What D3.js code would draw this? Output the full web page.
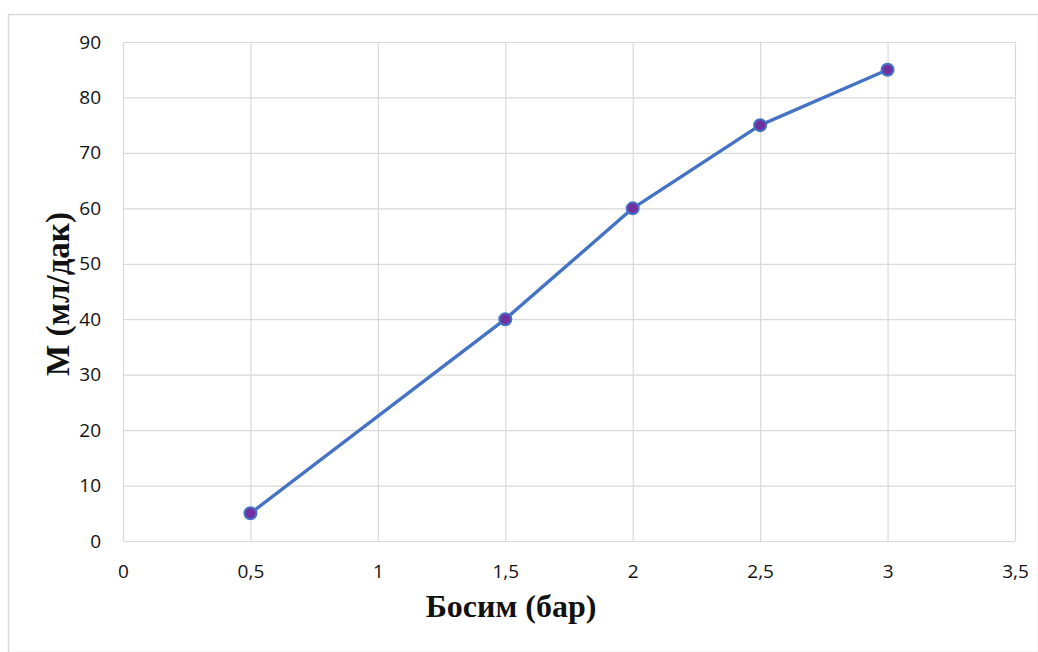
<!DOCTYPE html>
<html>
<head>
<meta charset="utf-8">
<script src="https://cdn.jsdelivr.net/npm/d3@7"></script>
<style>
  html, body { margin: 0; padding: 0; background: #ffffff; }
  svg { display: block; }
</style>
</head>
<body>
<svg id="chart" width="1038" height="652"></svg>
<script>
// Pressure (bar) and flow rate (ml/min)
const pressure = [0.5, 1.5, 2, 2.5, 3];
const flow = [5, 40, 60, 75, 85];
const xTicks = [0, 0.5, 1, 1.5, 2, 2.5, 3, 3.5];
const yTicks = [0, 10, 20, 30, 40, 50, 60, 70, 80, 90];
const xTitle = "Босим (бар)";
const yTitle = "М (мл/дак)";

const svg = d3.select("#chart");
const W = 1038, H = 652;
const plot = { left: 123, right: 1015, top: 42, bottom: 541 };

// outer chart frame
svg.append("rect")
  .attr("x", 8.5).attr("y", 14.5)
  .attr("width", W - 8).attr("height", H - 14)
  .attr("fill", "#ffffff")
  .attr("stroke", "#d9d9d9").attr("stroke-width", 1.5);

const x = d3.scaleLinear().domain([0, 3.5]).range([plot.left, plot.right]);
const y = d3.scaleLinear().domain([0, 90]).range([plot.bottom, plot.top]);

const fmt = d => String(d).replace(".", ",");
const tickFont = "'Open Sans', 'Liberation Sans', sans-serif";

// vertical gridlines
svg.append("g")
  .attr("transform", `translate(0,${plot.bottom})`)
  .call(d3.axisBottom(x).tickValues(xTicks).tickSize(-(plot.bottom - plot.top)).tickFormat(""))
  .call(g => g.select(".domain").remove())
  .call(g => g.selectAll("line").attr("stroke", "#d9d9d9").attr("stroke-width", 1.2));

// horizontal gridlines
svg.append("g")
  .attr("transform", `translate(${plot.left},0)`)
  .call(d3.axisLeft(y).tickValues(yTicks).tickSize(-(plot.right - plot.left)).tickFormat(""))
  .call(g => g.select(".domain").remove())
  .call(g => g.selectAll("line").attr("stroke", "#d9d9d9").attr("stroke-width", 1.2));

// axis tick labels
svg.append("g")
  .attr("transform", `translate(0,${plot.bottom})`)
  .call(d3.axisBottom(x).tickValues(xTicks).tickSize(0).tickPadding(24).tickFormat(fmt))
  .call(g => g.select(".domain").remove())
  .call(g => g.selectAll("text")
    .attr("font-family", tickFont).attr("font-size", 19).attr("fill", "#111"));

svg.append("g")
  .attr("transform", `translate(${plot.left},0)`)
  .call(d3.axisLeft(y).tickValues(yTicks).tickSize(0).tickPadding(22).tickFormat(fmt))
  .call(g => g.select(".domain").remove())
  .call(g => g.selectAll("text")
    .attr("font-family", tickFont).attr("font-size", 19).attr("fill", "#111"));

// axis titles
svg.append("text")
  .attr("x", 511).attr("y", 617)
  .attr("text-anchor", "middle")
  .attr("font-family", "'Liberation Serif', 'DejaVu Serif', serif")
  .attr("font-weight", "bold").attr("font-size", 32)
  .attr("fill", "#111")
  .text(xTitle);

svg.append("text")
  .attr("transform", "translate(69,294) rotate(-90)")
  .attr("text-anchor", "middle")
  .attr("font-family", "'Liberation Serif', 'DejaVu Serif', serif")
  .attr("font-weight", "bold").attr("font-size", 33)
  .attr("fill", "#111")
  .text(yTitle);

// data line
const pts = pressure.map((p, i) => [p, flow[i]]);
svg.append("path")
  .datum(pts)
  .attr("fill", "none")
  .attr("stroke", "#4472c4")
  .attr("stroke-width", 3.4)
  .attr("stroke-linejoin", "round")
  .attr("d", d3.line().x(d => x(d[0])).y(d => y(d[1])));

// markers
svg.append("g").selectAll("circle")
  .data(pts)
  .join("circle")
  .attr("cx", d => x(d[0])).attr("cy", d => y(d[1]))
  .attr("r", 6)
  .attr("fill", "#7030a0")
  .attr("stroke", "#4472c4")
  .attr("stroke-width", 2);
</script>
</body>
</html>
